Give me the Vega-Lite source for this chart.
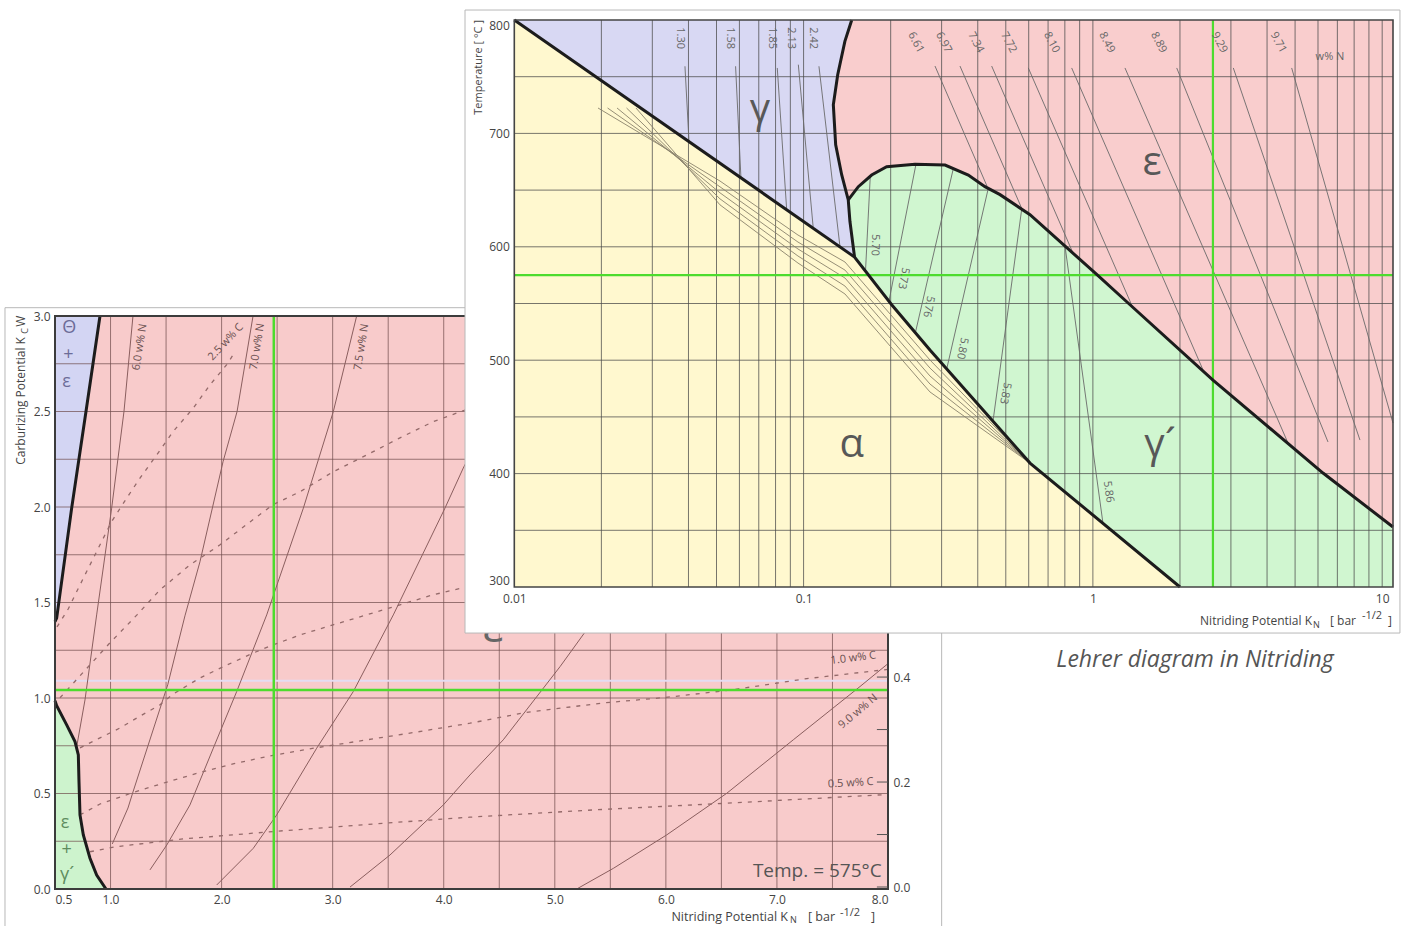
{
"$schema":"https://vega.github.io/schema/vega-lite/v6.json",
"width":1405,"height":926,"padding":0,"autosize":{"type":"none"},
"background":"white",
"config":{"view":{"stroke":null},"text":{"font":"Open Sans"},"axis":{"labelFont":"Open Sans"}},
"resolve":{"scale":{"x":"independent","y":"independent","fill":"independent"}},
"datasets":{
"bpoly":[
{"r":"t","i":0,"x":0.5,"y":3},{"r":"t","i":1,"x":0.905,"y":3},{"r":"t","i":2,"x":0.779,"y":2.5},{"r":"t","i":3,"x":0.65,"y":1.994},{"r":"t","i":4,"x":0.515,"y":1.418},{"r":"t","i":5,"x":0.5,"y":1.4},
{"r":"g","i":0,"x":0.5,"y":0.985},{"r":"g","i":1,"x":0.515,"y":0.96},{"r":"g","i":2,"x":0.605,"y":0.859},{"r":"g","i":3,"x":0.68,"y":0.772},{"r":"g","i":4,"x":0.71,"y":0.702},{"r":"g","i":5,"x":0.716,"y":0.562},{"r":"g","i":6,"x":0.725,"y":0.388},{"r":"g","i":7,"x":0.755,"y":0.283},{"r":"g","i":8,"x":0.815,"y":0.161},{"r":"g","i":9,"x":0.875,"y":0.073},{"r":"g","i":10,"x":0.959,"y":0},{"r":"g","i":11,"x":0.5,"y":0}
],
"bbound":[
{"id":"t","i":0,"x":0.905,"y":3},{"id":"t","i":1,"x":0.779,"y":2.5},{"id":"t","i":2,"x":0.65,"y":1.994},{"id":"t","i":3,"x":0.515,"y":1.418},{"id":"t","i":4,"x":0.5,"y":1.4},
{"id":"g","i":0,"x":0.5,"y":0.985},{"id":"g","i":1,"x":0.515,"y":0.96},{"id":"g","i":2,"x":0.605,"y":0.859},{"id":"g","i":3,"x":0.68,"y":0.772},{"id":"g","i":4,"x":0.71,"y":0.702},{"id":"g","i":5,"x":0.716,"y":0.562},{"id":"g","i":6,"x":0.725,"y":0.388},{"id":"g","i":7,"x":0.755,"y":0.283},{"id":"g","i":8,"x":0.815,"y":0.161},{"id":"g","i":9,"x":0.875,"y":0.073},{"id":"g","i":10,"x":0.959,"y":0}
],
"bisoN":[
{"id":"a","i":0,"x":0.695,"y":0.744},{"id":"a","i":1,"x":0.77,"y":0.99},{"id":"a","i":2,"x":0.875,"y":1.435},{"id":"a","i":3,"x":1.01,"y":1.994},{"id":"a","i":4,"x":1.121,"y":2.5},{"id":"a","i":5,"x":1.202,"y":3},
{"id":"b","i":0,"x":1.016,"y":0.236},{"id":"b","i":1,"x":1.157,"y":0.424},{"id":"b","i":2,"x":1.202,"y":0.508},{"id":"b","i":3,"x":1.515,"y":1.069},{"id":"b","i":4,"x":1.67,"y":1.43},{"id":"b","i":5,"x":1.805,"y":1.713},{"id":"b","i":6,"x":2.013,"y":2.237},{"id":"b","i":7,"x":2.139,"y":2.499},{"id":"b","i":8,"x":2.283,"y":3},
{"id":"c","i":0,"x":1.355,"y":0.1},{"id":"c","i":1,"x":1.506,"y":0.23},{"id":"c","i":2,"x":1.715,"y":0.44},{"id":"c","i":3,"x":1.925,"y":0.737},{"id":"c","i":4,"x":2.136,"y":1.034},{"id":"c","i":5,"x":2.406,"y":1.435},{"id":"c","i":6,"x":2.736,"y":1.994},{"id":"c","i":7,"x":3.006,"y":2.5},{"id":"c","i":8,"x":3.216,"y":3},
{"id":"d","i":0,"x":1.956,"y":0.021},{"id":"d","i":1,"x":2.285,"y":0.213},{"id":"d","i":2,"x":2.496,"y":0.388},{"id":"d","i":3,"x":2.856,"y":0.737},{"id":"d","i":4,"x":3.186,"y":1.034},{"id":"d","i":5,"x":3.546,"y":1.435},{"id":"d","i":6,"x":4.011,"y":1.994},{"id":"d","i":7,"x":4.176,"y":2.204},{"id":"d","i":8,"x":4.326,"y":2.378},
{"id":"e","i":0,"x":3.156,"y":0.01},{"id":"e","i":1,"x":3.516,"y":0.178},{"id":"e","i":2,"x":3.996,"y":0.44},{"id":"e","i":3,"x":4.236,"y":0.597},{"id":"e","i":4,"x":4.536,"y":0.781},{"id":"e","i":5,"x":5.047,"y":1.164},{"id":"e","i":6,"x":5.287,"y":1.357},{"id":"e","i":7,"x":5.407,"y":1.461},
{"id":"f","i":0,"x":5.197,"y":0},{"id":"f","i":1,"x":5.527,"y":0.108},{"id":"f","i":2,"x":6.007,"y":0.283},{"id":"f","i":3,"x":6.548,"y":0.501},{"id":"f","i":4,"x":7.147,"y":0.781},{"id":"f","i":5,"x":7.748,"y":1.06},{"id":"f","i":6,"x":8,"y":1.18}
],
"bisoC":[
{"id":"c05","i":0,"x":0.815,"y":0.195},{"id":"c05","i":1,"x":1.056,"y":0.222},{"id":"c05","i":2,"x":1.652,"y":0.262},{"id":"c05","i":3,"x":2.553,"y":0.305},{"id":"c05","i":4,"x":3.453,"y":0.344},{"id":"c05","i":5,"x":4.236,"y":0.376},{"id":"c05","i":6,"x":5.347,"y":0.414},{"id":"c05","i":7,"x":6.548,"y":0.449},{"id":"c05","i":8,"x":8,"y":0.495},
{"id":"c10","i":0,"x":0.725,"y":0.388},{"id":"c10","i":1,"x":0.905,"y":0.445},{"id":"c10","i":2,"x":1.202,"y":0.505},{"id":"c10","i":3,"x":1.508,"y":0.56},{"id":"c10","i":4,"x":1.805,"y":0.61},{"id":"c10","i":5,"x":2.103,"y":0.655},{"id":"c10","i":6,"x":2.463,"y":0.7},{"id":"c10","i":7,"x":2.859,"y":0.74},{"id":"c10","i":8,"x":3.309,"y":0.781},{"id":"c10","i":9,"x":3.759,"y":0.822},{"id":"c10","i":10,"x":4.236,"y":0.868},{"id":"c10","i":11,"x":4.747,"y":0.925},{"id":"c10","i":12,"x":5.45,"y":0.975},{"id":"c10","i":13,"x":6.0,"y":1.003},{"id":"c10","i":14,"x":6.6,"y":1.043},{"id":"c10","i":15,"x":7.25,"y":1.1},{"id":"c10","i":16,"x":8,"y":1.15},
{"id":"c15","i":0,"x":0.725,"y":0.739},{"id":"c15","i":1,"x":0.905,"y":0.791},{"id":"c15","i":2,"x":1.085,"y":0.843},{"id":"c15","i":3,"x":1.265,"y":0.905},{"id":"c15","i":4,"x":1.445,"y":0.964},{"id":"c15","i":5,"x":1.562,"y":1.02},{"id":"c15","i":6,"x":1.805,"y":1.105},{"id":"c15","i":7,"x":2.049,"y":1.173},{"id":"c15","i":8,"x":2.283,"y":1.235},{"id":"c15","i":9,"x":2.463,"y":1.278},{"id":"c15","i":10,"x":2.706,"y":1.33},{"id":"c15","i":11,"x":3.003,"y":1.383},{"id":"c15","i":12,"x":3.246,"y":1.425},{"id":"c15","i":13,"x":3.606,"y":1.488},{"id":"c15","i":14,"x":3.903,"y":1.54},{"id":"c15","i":15,"x":4.173,"y":1.577},{"id":"c15","i":16,"x":4.326,"y":1.603},
{"id":"c20","i":0,"x":0.545,"y":1.001},{"id":"c20","i":1,"x":0.725,"y":1.116},{"id":"c20","i":2,"x":0.995,"y":1.289},{"id":"c20","i":3,"x":1.238,"y":1.435},{"id":"c20","i":4,"x":1.445,"y":1.566},{"id":"c20","i":5,"x":1.715,"y":1.697},{"id":"c20","i":6,"x":1.986,"y":1.802},{"id":"c20","i":7,"x":2.256,"y":1.922},{"id":"c20","i":8,"x":2.463,"y":2.012},{"id":"c20","i":9,"x":2.706,"y":2.08},{"id":"c20","i":10,"x":3.003,"y":2.184},{"id":"c20","i":11,"x":3.309,"y":2.273},{"id":"c20","i":12,"x":3.606,"y":2.362},{"id":"c20","i":13,"x":3.903,"y":2.446},{"id":"c20","i":14,"x":4.173,"y":2.504},{"id":"c20","i":15,"x":4.326,"y":2.535},
{"id":"c25","i":0,"x":0.518,"y":1.372},{"id":"c25","i":1,"x":0.62,"y":1.467},{"id":"c25","i":2,"x":0.725,"y":1.592},{"id":"c25","i":3,"x":0.875,"y":1.767},{"id":"c25","i":4,"x":1.01,"y":1.924},{"id":"c25","i":5,"x":1.146,"y":2.047},{"id":"c25","i":6,"x":1.265,"y":2.151},{"id":"c25","i":7,"x":1.416,"y":2.273},{"id":"c25","i":8,"x":1.565,"y":2.396},{"id":"c25","i":9,"x":1.745,"y":2.518},{"id":"c25","i":10,"x":1.896,"y":2.64},{"id":"c25","i":11,"x":2.046,"y":2.745},{"id":"c25","i":12,"x":2.105,"y":2.798}
],
"bgx":[{"v":1},{"v":1.5},{"v":2},{"v":2.5},{"v":3},{"v":3.5},{"v":4},{"v":4.5},{"v":5},{"v":5.5},{"v":6},{"v":6.5},{"v":7},{"v":7.5}],
"bgy":[{"v":0.25},{"v":0.5},{"v":0.75},{"v":1},{"v":1.25},{"v":1.5},{"v":1.75},{"v":2},{"v":2.25},{"v":2.5},{"v":2.75}],
"brt":[{"v":0},{"v":0.1},{"v":0.2},{"v":0.3},{"v":0.4}],
"blN":[{"t":"6.0 w% N","x":1.265,"y":2.837},{"t":"7.0 w% N","x":2.323,"y":2.84},{"t":"7.5 w% N","x":3.261,"y":2.837}],
"blC25":[{"t":"2.5 w% C","x":2.038,"y":2.863}],
"blC10":[{"t":"1.0 w% C","x":7.688,"y":1.208}],
"blC05":[{"t":"0.5 w% C","x":7.665,"y":0.554}],
"blN9":[{"t":"9.0 w% N","x":7.732,"y":0.929}],
"bphT":[{"t":"Θ","x":0.629,"y":2.937},{"t":"+","x":0.62,"y":2.797},{"t":"ε","x":0.605,"y":2.652}],
"bphG":[{"t":"ε","x":0.59,"y":0.344},{"t":"+","x":0.605,"y":0.204},{"t":"γ´","x":0.61,"y":0.073}],
"fpoly":[
{"r":"a","i":0,"x":0.01,"y":800},{"r":"a","i":1,"x":0.15,"y":591},{"r":"a","i":2,"x":0.2016,"y":548.9},{"r":"a","i":3,"x":0.2734,"y":509},{"r":"a","i":4,"x":0.6063,"y":409.3},{"r":"a","i":5,"x":2.0,"y":300},{"r":"a","i":6,"x":0.01,"y":300},
{"r":"g","i":0,"x":0.01,"y":800},{"r":"g","i":1,"x":0.1467,"y":800},{"r":"g","i":2,"x":0.1389,"y":781.2},{"r":"g","i":3,"x":0.1312,"y":751.8},{"r":"g","i":4,"x":0.1267,"y":725.3},{"r":"g","i":5,"x":0.1291,"y":690},{"r":"g","i":6,"x":0.1354,"y":663.6},{"r":"g","i":7,"x":0.1427,"y":641.3},{"r":"g","i":8,"x":0.1446,"y":622.5},{"r":"g","i":9,"x":0.15,"y":591},
{"r":"p","i":0,"x":0.15,"y":591},{"r":"p","i":1,"x":0.1446,"y":622.5},{"r":"p","i":2,"x":0.1427,"y":641.3},{"r":"p","i":3,"x":0.1546,"y":653},{"r":"p","i":4,"x":0.1719,"y":663.3},{"r":"p","i":5,"x":0.1937,"y":670.6},{"r":"p","i":6,"x":0.2427,"y":672.8},{"r":"p","i":7,"x":0.3083,"y":672.1},{"r":"p","i":8,"x":0.371,"y":663.3},{"r":"p","i":9,"x":0.4236,"y":653},{"r":"p","i":10,"x":0.4776,"y":646},{"r":"p","i":11,"x":0.6063,"y":628.3},{"r":"p","i":12,"x":1.033,"y":575.4},{"r":"p","i":13,"x":1.344,"y":548.9},{"r":"p","i":14,"x":2.601,"y":482.5},{"r":"p","i":15,"x":6.244,"y":400.5},{"r":"p","i":16,"x":10.9,"y":352.9},{"r":"p","i":17,"x":10.9,"y":300},{"r":"p","i":18,"x":2.0,"y":300},{"r":"p","i":19,"x":0.6063,"y":409.3},{"r":"p","i":20,"x":0.2734,"y":509},{"r":"p","i":21,"x":0.2016,"y":548.9}
],
"fbound":[
{"id":"b1","i":0,"x":0.01,"y":800},{"id":"b1","i":1,"x":0.15,"y":591},{"id":"b1","i":2,"x":0.2016,"y":548.9},{"id":"b1","i":3,"x":0.2734,"y":509},{"id":"b1","i":4,"x":0.6063,"y":409.3},{"id":"b1","i":5,"x":2.0,"y":300},
{"id":"b2","i":0,"x":0.1467,"y":800},{"id":"b2","i":1,"x":0.1389,"y":781.2},{"id":"b2","i":2,"x":0.1312,"y":751.8},{"id":"b2","i":3,"x":0.1267,"y":725.3},{"id":"b2","i":4,"x":0.1291,"y":690},{"id":"b2","i":5,"x":0.1354,"y":663.6},{"id":"b2","i":6,"x":0.1427,"y":641.3},{"id":"b2","i":7,"x":0.1446,"y":622.5},{"id":"b2","i":8,"x":0.15,"y":591},
{"id":"b3","i":0,"x":0.1427,"y":641.3},{"id":"b3","i":1,"x":0.1546,"y":653},{"id":"b3","i":2,"x":0.1719,"y":663.3},{"id":"b3","i":3,"x":0.1937,"y":670.6},{"id":"b3","i":4,"x":0.2427,"y":672.8},{"id":"b3","i":5,"x":0.3083,"y":672.1},{"id":"b3","i":6,"x":0.371,"y":663.3},{"id":"b3","i":7,"x":0.4236,"y":653},{"id":"b3","i":8,"x":0.4776,"y":646},{"id":"b3","i":9,"x":0.6063,"y":628.3},{"id":"b3","i":10,"x":1.033,"y":575.4},{"id":"b3","i":11,"x":1.344,"y":548.9},{"id":"b3","i":12,"x":2.601,"y":482.5},{"id":"b3","i":13,"x":6.244,"y":400.5},{"id":"b3","i":14,"x":10.9,"y":352.9}
],
"fiso":[
{"id":"g1","i":0,"x":0.0389,"y":759.2},{"id":"g1","i":1,"x":0.04017,"y":693},
{"id":"g2","i":0,"x":0.0582,"y":759.2},{"id":"g2","i":1,"x":0.06074,"y":660.7},
{"id":"g3","i":0,"x":0.0811,"y":757.7},{"id":"g3","i":1,"x":0.08741,"y":632.7},
{"id":"g4","i":0,"x":0.0959,"y":760.6},{"id":"g4","i":1,"x":0.108,"y":616.3},
{"id":"g5","i":0,"x":0.113,"y":759.2},{"id":"g5","i":1,"x":0.1336,"y":600},
{"id":"p1","i":0,"x":0.17,"y":662},{"id":"p1","i":1,"x":0.1637,"y":578.7},
{"id":"p2","i":0,"x":0.2446,"y":672.7},{"id":"p2","i":1,"x":0.1973,"y":552.2},
{"id":"p3","i":0,"x":0.3293,"y":669},{"id":"p3","i":1,"x":0.2436,"y":524.5},
{"id":"p4","i":0,"x":0.4349,"y":651.5},{"id":"p4","i":1,"x":0.3124,"y":492.3},
{"id":"p5","i":0,"x":0.5675,"y":633.2},{"id":"p5","i":1,"x":0.4516,"y":446.2},
{"id":"p6","i":0,"x":0.8011,"y":600.6},{"id":"p6","i":1,"x":1.0837,"y":356.1},
{"id":"e1","i":0,"x":0.2846,"y":759.4},{"id":"e1","i":1,"x":0.4304,"y":653.6},
{"id":"e2","i":0,"x":0.3472,"y":759.4},{"id":"e2","i":1,"x":0.5689,"y":633.3},
{"id":"e3","i":0,"x":0.4468,"y":759.4},{"id":"e3","i":1,"x":0.8535,"y":594.5},
{"id":"e4","i":0,"x":0.5981,"y":757.7},{"id":"e4","i":1,"x":1.376,"y":546},
{"id":"e5","i":0,"x":0.8447,"y":757.7},{"id":"e5","i":1,"x":2.403,"y":491.4},
{"id":"e6","i":0,"x":1.291,"y":757.7},{"id":"e6","i":1,"x":4.725,"y":427},
{"id":"e7","i":0,"x":1.949,"y":757.7},{"id":"e7","i":1,"x":6.497,"y":427.9},
{"id":"e8","i":0,"x":3.058,"y":757.7},{"id":"e8","i":1,"x":8.38,"y":429.6},
{"id":"e9","i":0,"x":4.866,"y":757.7},{"id":"e9","i":1,"x":10.9,"y":444.6}
],
"falpha":[
{"id":"a0","i":0,"x":0.01947,"y":722.4},{"id":"a0","i":1,"x":0.0514,"y":658},{"id":"a0","i":2,"x":0.0956,"y":610.4},{"id":"a0","i":3,"x":0.139,"y":586.6},{"id":"a0","i":4,"x":0.2734,"y":500.2},{"id":"a0","i":5,"x":0.6063,"y":409.3},
{"id":"a1","i":0,"x":0.02101,"y":722.4},{"id":"a1","i":1,"x":0.0514,"y":652.9},{"id":"a1","i":2,"x":0.0956,"y":604.2},{"id":"a1","i":3,"x":0.139,"y":579.5},{"id":"a1","i":4,"x":0.2734,"y":493.1},{"id":"a1","i":5,"x":0.6063,"y":409.3},
{"id":"a2","i":0,"x":0.02265,"y":722.4},{"id":"a2","i":1,"x":0.0514,"y":647.6},{"id":"a2","i":2,"x":0.0956,"y":598.1},{"id":"a2","i":3,"x":0.139,"y":572.5},{"id":"a2","i":4,"x":0.2734,"y":486.1},{"id":"a2","i":5,"x":0.6063,"y":409.3},
{"id":"a3","i":0,"x":0.02443,"y":722.4},{"id":"a3","i":1,"x":0.0514,"y":642.3},{"id":"a3","i":2,"x":0.0956,"y":591.9},{"id":"a3","i":3,"x":0.139,"y":565.4},{"id":"a3","i":4,"x":0.2734,"y":479},{"id":"a3","i":5,"x":0.6063,"y":409.3},
{"id":"a4","i":0,"x":0.02634,"y":722.4},{"id":"a4","i":1,"x":0.0514,"y":637},{"id":"a4","i":2,"x":0.0956,"y":585.7},{"id":"a4","i":3,"x":0.139,"y":558.4},{"id":"a4","i":4,"x":0.2734,"y":472},{"id":"a4","i":5,"x":0.6063,"y":409.3}
],
"fgx":[{"v":0.02},{"v":0.03},{"v":0.04},{"v":0.05},{"v":0.06},{"v":0.07},{"v":0.08},{"v":0.09},{"v":0.1},{"v":0.2},{"v":0.3},{"v":0.4},{"v":0.5},{"v":0.6},{"v":0.7},{"v":0.8},{"v":0.9},{"v":1},{"v":2},{"v":3},{"v":4},{"v":5},{"v":6},{"v":7},{"v":8},{"v":9},{"v":10}],
"fgy":[{"v":350},{"v":400},{"v":450},{"v":500},{"v":550},{"v":600},{"v":650},{"v":700},{"v":750}],
"flg":[{"t":"1.30","x":0.0374,"y":784},{"t":"1.58","x":0.0557,"y":784},{"t":"1.85","x":0.0776,"y":784},{"t":"2.13","x":0.0905,"y":784},{"t":"2.42","x":0.108,"y":784}],
"flp1":[{"t":"5.70","x":0.1765,"y":601.6}],
"flp2":[{"t":"5.73","x":0.2212,"y":572.2},{"t":"5.76","x":0.2698,"y":547.2},{"t":"5.80","x":0.3529,"y":510.5},{"t":"5.83","x":0.497,"y":470.8}],
"flp3":[{"t":"5.86","x":1.13,"y":384}],
"fle":[{"t":"6.61","x":0.244,"y":780.1},{"t":"6.97","x":0.3047,"y":780.1},{"t":"7.34","x":0.3935,"y":780.1},{"t":"7.72","x":0.5113,"y":780.1},{"t":"8.10","x":0.7188,"y":780.1},{"t":"8.49","x":1.117,"y":780.1},{"t":"8.89","x":1.687,"y":780.1},{"t":"9.29","x":2.734,"y":780.1},{"t":"9.71","x":4.37,"y":780.1}],
"fgreek":[{"t":"γ","x":0.0707,"y":720.6},{"t":"ε","x":1.6,"y":673.9},{"t":"α","x":0.1467,"y":425.2},{"t":"γ´","x":1.706,"y":425.2}]
},
"layer":[
{"data":{"values":[{}]},"mark":{"type":"rect","fill":"white","stroke":"#b8b8b8","strokeWidth":1},
 "encoding":{"x":{"datum":0.0498,"type":"quantitative","scale":{"domain":[0.5,8],"range":[55,888],"nice":false,"zero":false},"axis":null},"x2":{"datum":8.483},
 "y":{"datum":3.0435,"type":"quantitative","scale":{"domain":[0,3],"range":[889,316],"nice":false,"zero":false},"axis":null},"y2":{"datum":-0.3}}},
{"data":{"values":[{}]},"mark":{"type":"rect","fill":"#F8CBCB"},
 "encoding":{"x":{"datum":0.5,"type":"quantitative","scale":{"domain":[0.5,8],"range":[55,888],"nice":false,"zero":false},
   "axis":{"orient":"bottom","offset":-37,"zindex":1,"values":[0.5,1,2,3,4,5,6,7,8],"format":".1f","grid":false,"ticks":false,"domain":false,"labelFontSize":12,"labelColor":"#444","labelPadding":5,"labelFlush":true,"title":null}},"x2":{"datum":8},
 "y":{"datum":0,"type":"quantitative","scale":{"domain":[0,3],"range":[889,316],"nice":false,"zero":false},
   "axis":{"orient":"left","offset":-55,"zindex":1,"values":[0,0.5,1,1.5,2,2.5,3],"format":".1f","grid":false,"ticks":false,"domain":false,"labelFontSize":12,"labelColor":"#444","labelPadding":5,"title":null}},"y2":{"datum":3}}},
{"data":{"name":"bpoly"},"mark":{"type":"line","strokeWidth":0},
 "encoding":{"x":{"field":"x","type":"quantitative","scale":{"domain":[0.5,8],"range":[55,888],"nice":false,"zero":false},"axis":null},
 "y":{"field":"y","type":"quantitative","scale":{"domain":[0,3],"range":[889,316],"nice":false,"zero":false},"axis":null},
 "fill":{"field":"r","type":"nominal","scale":{"domain":["t","g"],"range":["#D3D5F3","#CDF3CD"]},"legend":null},"detail":{"field":"r"},"order":{"field":"i","type":"quantitative"}}},
{"data":{"name":"bgx"},"mark":{"type":"rule","stroke":"#6e4a4a","strokeWidth":1,"opacity":0.7},
 "encoding":{"x":{"field":"v","type":"quantitative","scale":{"domain":[0.5,8],"range":[55,888],"nice":false,"zero":false},"axis":null},
 "y":{"datum":0,"type":"quantitative","scale":{"domain":[0,3],"range":[889,316],"nice":false,"zero":false},"axis":null},"y2":{"datum":3}}},
{"data":{"name":"bgy"},"mark":{"type":"rule","stroke":"#6e4a4a","strokeWidth":1,"opacity":0.7},
 "encoding":{"x":{"datum":0.5,"type":"quantitative","scale":{"domain":[0.5,8],"range":[55,888],"nice":false,"zero":false},"axis":null},"x2":{"datum":8},
 "y":{"field":"v","type":"quantitative","scale":{"domain":[0,3],"range":[889,316],"nice":false,"zero":false},"axis":null}}},
{"data":{"values":[{}]},"mark":{"type":"rule","stroke":"#E4DCF2","strokeWidth":2},
 "encoding":{"x":{"datum":0.5,"type":"quantitative","scale":{"domain":[0.5,8],"range":[55,888],"nice":false,"zero":false},"axis":null},"x2":{"datum":8},
 "y":{"datum":1.09,"type":"quantitative","scale":{"domain":[0,3],"range":[889,316],"nice":false,"zero":false},"axis":null}}},
{"data":{"name":"bisoN"},"mark":{"type":"line","stroke":"#8a5e5e","strokeWidth":1},
 "encoding":{"x":{"field":"x","type":"quantitative","scale":{"domain":[0.5,8],"range":[55,888],"nice":false,"zero":false},"axis":null},
 "y":{"field":"y","type":"quantitative","scale":{"domain":[0,3],"range":[889,316],"nice":false,"zero":false},"axis":null},"detail":{"field":"id"},"order":{"field":"i","type":"quantitative"}}},
{"data":{"name":"bisoC"},"mark":{"type":"line","stroke":"#946a6a","strokeWidth":1.3,"strokeDash":[4,6]},
 "encoding":{"x":{"field":"x","type":"quantitative","scale":{"domain":[0.5,8],"range":[55,888],"nice":false,"zero":false},"axis":null},
 "y":{"field":"y","type":"quantitative","scale":{"domain":[0,3],"range":[889,316],"nice":false,"zero":false},"axis":null},"detail":{"field":"id"},"order":{"field":"i","type":"quantitative"}}},
{"data":{"values":[{}]},"mark":{"type":"rule","stroke":"#4ddc2e","strokeWidth":2.5},
 "encoding":{"x":{"datum":2.47,"type":"quantitative","scale":{"domain":[0.5,8],"range":[55,888],"nice":false,"zero":false},"axis":null},
 "y":{"datum":0,"type":"quantitative","scale":{"domain":[0,3],"range":[889,316],"nice":false,"zero":false},"axis":null},"y2":{"datum":3}}},
{"data":{"values":[{}]},"mark":{"type":"rule","stroke":"#4ddc2e","strokeWidth":2.5},
 "encoding":{"x":{"datum":0.5,"type":"quantitative","scale":{"domain":[0.5,8],"range":[55,888],"nice":false,"zero":false},"axis":null},"x2":{"datum":8},
 "y":{"datum":1.042,"type":"quantitative","scale":{"domain":[0,3],"range":[889,316],"nice":false,"zero":false},"axis":null}}},
{"data":{"name":"bbound"},"mark":{"type":"line","stroke":"#1c1c1c","strokeWidth":3},
 "encoding":{"x":{"field":"x","type":"quantitative","scale":{"domain":[0.5,8],"range":[55,888],"nice":false,"zero":false},"axis":null},
 "y":{"field":"y","type":"quantitative","scale":{"domain":[0,3],"range":[889,316],"nice":false,"zero":false},"axis":null},"detail":{"field":"id"},"order":{"field":"i","type":"quantitative"}}},
{"data":{"values":[{}]},"mark":{"type":"rect","filled":false,"stroke":"#3c3c3c","strokeWidth":2},
 "encoding":{"x":{"datum":0.5,"type":"quantitative","scale":{"domain":[0.5,8],"range":[55,888],"nice":false,"zero":false},"axis":null},"x2":{"datum":8},
 "y":{"datum":0,"type":"quantitative","scale":{"domain":[0,3],"range":[889,316],"nice":false,"zero":false},"axis":null},"y2":{"datum":3}}},
{"data":{"name":"brt"},"mark":{"type":"rule","stroke":"#555","strokeWidth":1},
 "encoding":{"x":{"datum":7.9,"type":"quantitative","scale":{"domain":[0.5,8],"range":[55,888],"nice":false,"zero":false},"axis":null},"x2":{"datum":8},
 "y":{"field":"v","type":"quantitative","scale":{"domain":[0,1.088],"range":[887,316],"nice":false,"zero":false},
   "axis":{"orient":"right","offset":-517,"zindex":1,"values":[0,0.2,0.4],"format":".1f","grid":false,"ticks":false,"domain":false,"labelFontSize":12,"labelColor":"#444","labelPadding":5,"title":null}}}},
{"data":{"name":"blN"},"mark":{"type":"text","fontSize":11,"color":"#6a5050","angle":-81,"align":"center","baseline":"middle"},
 "encoding":{"x":{"field":"x","type":"quantitative","scale":{"domain":[0.5,8],"range":[55,888],"nice":false,"zero":false},"axis":null},
 "y":{"field":"y","type":"quantitative","scale":{"domain":[0,3],"range":[889,316],"nice":false,"zero":false},"axis":null},"text":{"field":"t"}}},
{"data":{"name":"blC25"},"mark":{"type":"text","fontSize":11,"color":"#6a5050","angle":-47,"align":"center","baseline":"middle"},
 "encoding":{"x":{"field":"x","type":"quantitative","scale":{"domain":[0.5,8],"range":[55,888],"nice":false,"zero":false},"axis":null},
 "y":{"field":"y","type":"quantitative","scale":{"domain":[0,3],"range":[889,316],"nice":false,"zero":false},"axis":null},"text":{"field":"t"}}},
{"data":{"name":"blC10"},"mark":{"type":"text","fontSize":11,"color":"#6a5050","angle":-7,"align":"center","baseline":"middle"},
 "encoding":{"x":{"field":"x","type":"quantitative","scale":{"domain":[0.5,8],"range":[55,888],"nice":false,"zero":false},"axis":null},
 "y":{"field":"y","type":"quantitative","scale":{"domain":[0,3],"range":[889,316],"nice":false,"zero":false},"axis":null},"text":{"field":"t"}}},
{"data":{"name":"blC05"},"mark":{"type":"text","fontSize":11,"color":"#6a5050","angle":-3,"align":"center","baseline":"middle"},
 "encoding":{"x":{"field":"x","type":"quantitative","scale":{"domain":[0.5,8],"range":[55,888],"nice":false,"zero":false},"axis":null},
 "y":{"field":"y","type":"quantitative","scale":{"domain":[0,3],"range":[889,316],"nice":false,"zero":false},"axis":null},"text":{"field":"t"}}},
{"data":{"name":"blN9"},"mark":{"type":"text","fontSize":11,"color":"#6a5050","angle":-40,"align":"center","baseline":"middle"},
 "encoding":{"x":{"field":"x","type":"quantitative","scale":{"domain":[0.5,8],"range":[55,888],"nice":false,"zero":false},"axis":null},
 "y":{"field":"y","type":"quantitative","scale":{"domain":[0,3],"range":[889,316],"nice":false,"zero":false},"axis":null},"text":{"field":"t"}}},
{"data":{"name":"bphT"},"mark":{"type":"text","fontSize":18,"color":"#6c6c98","align":"center","baseline":"middle"},
 "encoding":{"x":{"field":"x","type":"quantitative","scale":{"domain":[0.5,8],"range":[55,888],"nice":false,"zero":false},"axis":null},
 "y":{"field":"y","type":"quantitative","scale":{"domain":[0,3],"range":[889,316],"nice":false,"zero":false},"axis":null},"text":{"field":"t"}}},
{"data":{"name":"bphG"},"mark":{"type":"text","fontSize":18,"color":"#5e8c5e","align":"center","baseline":"middle"},
 "encoding":{"x":{"field":"x","type":"quantitative","scale":{"domain":[0.5,8],"range":[55,888],"nice":false,"zero":false},"axis":null},
 "y":{"field":"y","type":"quantitative","scale":{"domain":[0,3],"range":[889,316],"nice":false,"zero":false},"axis":null},"text":{"field":"t"}}},
{"data":{"values":[{"t":"ε","x":4.443,"y":1.294}]},"mark":{"type":"text","fontSize":44,"color":"#666","align":"center","baseline":"alphabetic"},
 "encoding":{"x":{"field":"x","type":"quantitative","scale":{"domain":[0.5,8],"range":[55,888],"nice":false,"zero":false},"axis":null},
 "y":{"field":"y","type":"quantitative","scale":{"domain":[0,3],"range":[889,316],"nice":false,"zero":false},"axis":null},"text":{"field":"t"}}},
{"data":{"values":[{"t":"Temp. = 575°C","x":7.943,"y":0.0644}]},"mark":{"type":"text","fontSize":19,"color":"#555","align":"right","baseline":"alphabetic"},
 "encoding":{"x":{"field":"x","type":"quantitative","scale":{"domain":[0.5,8],"range":[55,888],"nice":false,"zero":false},"axis":null},
 "y":{"field":"y","type":"quantitative","scale":{"domain":[0,3],"range":[889,316],"nice":false,"zero":false},"axis":null},"text":{"field":"t"}}},
{"data":{"values":[{"x":8,"y":-0.1676}]},"mark":{"type":"text","text":"Nitriding Potential K","fontSize":12.5,"color":"#444","align":"right","baseline":"alphabetic","dx":-100},
 "encoding":{"x":{"field":"x","type":"quantitative","scale":{"domain":[0.5,8],"range":[55,888],"nice":false,"zero":false},"axis":null},
 "y":{"field":"y","type":"quantitative","scale":{"domain":[0,3],"range":[889,316],"nice":false,"zero":false},"axis":null}}},
{"data":{"values":[{"x":8,"y":-0.1676}]},"mark":{"type":"text","text":"N","fontSize":9,"color":"#444","align":"left","baseline":"alphabetic","dx":-98,"dy":2},
 "encoding":{"x":{"field":"x","type":"quantitative","scale":{"domain":[0.5,8],"range":[55,888],"nice":false,"zero":false},"axis":null},
 "y":{"field":"y","type":"quantitative","scale":{"domain":[0,3],"range":[889,316],"nice":false,"zero":false},"axis":null}}},
{"data":{"values":[{"x":8,"y":-0.1676}]},"mark":{"type":"text","text":"[ bar","fontSize":12.5,"color":"#444","align":"left","baseline":"alphabetic","dx":-80},
 "encoding":{"x":{"field":"x","type":"quantitative","scale":{"domain":[0.5,8],"range":[55,888],"nice":false,"zero":false},"axis":null},
 "y":{"field":"y","type":"quantitative","scale":{"domain":[0,3],"range":[889,316],"nice":false,"zero":false},"axis":null}}},
{"data":{"values":[{"x":8,"y":-0.1676}]},"mark":{"type":"text","text":"-1/2","fontSize":11,"color":"#444","align":"left","baseline":"alphabetic","dx":-48,"dy":-5},
 "encoding":{"x":{"field":"x","type":"quantitative","scale":{"domain":[0.5,8],"range":[55,888],"nice":false,"zero":false},"axis":null},
 "y":{"field":"y","type":"quantitative","scale":{"domain":[0,3],"range":[889,316],"nice":false,"zero":false},"axis":null}}},
{"data":{"values":[{"x":8,"y":-0.1676}]},"mark":{"type":"text","text":"]","fontSize":12.5,"color":"#444","align":"left","baseline":"alphabetic","dx":-17},
 "encoding":{"x":{"field":"x","type":"quantitative","scale":{"domain":[0.5,8],"range":[55,888],"nice":false,"zero":false},"axis":null},
 "y":{"field":"y","type":"quantitative","scale":{"domain":[0,3],"range":[889,316],"nice":false,"zero":false},"axis":null}}},
{"data":{"values":[{"x":0.2254,"y":2.221}]},"mark":{"type":"text","text":"Carburizing Potential K","fontSize":12,"color":"#444","align":"left","baseline":"alphabetic","angle":270},
 "encoding":{"x":{"field":"x","type":"quantitative","scale":{"domain":[0.5,8],"range":[55,888],"nice":false,"zero":false},"axis":null},
 "y":{"field":"y","type":"quantitative","scale":{"domain":[0,3],"range":[889,316],"nice":false,"zero":false},"axis":null}}},
{"data":{"values":[{"x":0.2254,"y":2.221}]},"mark":{"type":"text","text":"C","fontSize":9,"color":"#444","align":"left","baseline":"alphabetic","angle":270,"dx":131,"dy":3},
 "encoding":{"x":{"field":"x","type":"quantitative","scale":{"domain":[0.5,8],"range":[55,888],"nice":false,"zero":false},"axis":null},
 "y":{"field":"y","type":"quantitative","scale":{"domain":[0,3],"range":[889,316],"nice":false,"zero":false},"axis":null}}},
{"data":{"values":[{"x":0.2254,"y":2.221}]},"mark":{"type":"text","text":"W","fontSize":12,"color":"#444","align":"left","baseline":"alphabetic","angle":270,"dx":138},
 "encoding":{"x":{"field":"x","type":"quantitative","scale":{"domain":[0.5,8],"range":[55,888],"nice":false,"zero":false},"axis":null},
 "y":{"field":"y","type":"quantitative","scale":{"domain":[0,3],"range":[889,316],"nice":false,"zero":false},"axis":null}}},

{"data":{"values":[{}]},"mark":{"type":"rect","fill":"white","stroke":"#b8b8b8","strokeWidth":1},
 "encoding":{"x":{"datum":0.006755,"type":"quantitative","scale":{"type":"log","domain":[0.01,10.9],"range":[514.3,1393],"nice":false},"axis":null},"x2":{"datum":11.52},
 "y":{"datum":808.8,"type":"quantitative","scale":{"domain":[300,800],"range":[587,20],"nice":false,"zero":false},"axis":null},"y2":{"datum":259.4}}},
{"data":{"values":[{}]},"mark":{"type":"rect","fill":"#F9CDCD"},
 "encoding":{"x":{"datum":0.01,"type":"quantitative","scale":{"type":"log","domain":[0.01,10.9],"range":[514.3,1393],"nice":false},
   "axis":{"orient":"bottom","offset":-339,"zindex":1,"values":[0.01,0.1,1,10],"format":"~g","grid":false,"ticks":false,"domain":false,"labelFontSize":12,"labelColor":"#444","labelPadding":6,"labelFlush":false,"title":null}},"x2":{"datum":10.9},
 "y":{"datum":300,"type":"quantitative","scale":{"domain":[300,800],"range":[587,20],"nice":false,"zero":false},
   "axis":{"orient":"left","offset":-514.3,"zindex":1,"values":[300,400,500,600,700,800],"grid":false,"ticks":false,"domain":false,"labelFontSize":12,"labelColor":"#444","labelPadding":5,"labelFlush":true,"title":null}},"y2":{"datum":800}}},
{"data":{"name":"fpoly"},"mark":{"type":"line","strokeWidth":0},
 "encoding":{"x":{"field":"x","type":"quantitative","scale":{"type":"log","domain":[0.01,10.9],"range":[514.3,1393],"nice":false},"axis":null},
 "y":{"field":"y","type":"quantitative","scale":{"domain":[300,800],"range":[587,20],"nice":false,"zero":false},"axis":null},
 "fill":{"field":"r","type":"nominal","scale":{"domain":["a","g","p"],"range":["#FFF8CF","#D8D8F3","#D0F6D0"]},"legend":null},"detail":{"field":"r"},"order":{"field":"i","type":"quantitative"}}},
{"data":{"name":"fgx"},"mark":{"type":"rule","stroke":"#4a4a4a","strokeWidth":1,"opacity":0.75},
 "encoding":{"x":{"field":"v","type":"quantitative","scale":{"type":"log","domain":[0.01,10.9],"range":[514.3,1393],"nice":false},"axis":null},
 "y":{"datum":300,"type":"quantitative","scale":{"domain":[300,800],"range":[587,20],"nice":false,"zero":false},"axis":null},"y2":{"datum":800}}},
{"data":{"name":"fgy"},"mark":{"type":"rule","stroke":"#4a4a4a","strokeWidth":1,"opacity":0.75},
 "encoding":{"x":{"datum":0.01,"type":"quantitative","scale":{"type":"log","domain":[0.01,10.9],"range":[514.3,1393],"nice":false},"axis":null},"x2":{"datum":10.9},
 "y":{"field":"v","type":"quantitative","scale":{"domain":[300,800],"range":[587,20],"nice":false,"zero":false},"axis":null}}},
{"data":{"name":"falpha"},"mark":{"type":"line","stroke":"#8a826c","strokeWidth":0.9},
 "encoding":{"x":{"field":"x","type":"quantitative","scale":{"type":"log","domain":[0.01,10.9],"range":[514.3,1393],"nice":false},"axis":null},
 "y":{"field":"y","type":"quantitative","scale":{"domain":[300,800],"range":[587,20],"nice":false,"zero":false},"axis":null},"detail":{"field":"id"},"order":{"field":"i","type":"quantitative"}}},
{"data":{"name":"fiso"},"mark":{"type":"line","stroke":"#6a6a6a","strokeWidth":0.9},
 "encoding":{"x":{"field":"x","type":"quantitative","scale":{"type":"log","domain":[0.01,10.9],"range":[514.3,1393],"nice":false},"axis":null},
 "y":{"field":"y","type":"quantitative","scale":{"domain":[300,800],"range":[587,20],"nice":false,"zero":false},"axis":null},"detail":{"field":"id"},"order":{"field":"i","type":"quantitative"}}},
{"data":{"values":[{}]},"mark":{"type":"rule","stroke":"#4ddc2e","strokeWidth":2.2},
 "encoding":{"x":{"datum":0.01,"type":"quantitative","scale":{"type":"log","domain":[0.01,10.9],"range":[514.3,1393],"nice":false},"axis":null},"x2":{"datum":10.9},
 "y":{"datum":575,"type":"quantitative","scale":{"domain":[300,800],"range":[587,20],"nice":false,"zero":false},"axis":null}}},
{"data":{"values":[{}]},"mark":{"type":"rule","stroke":"#4ddc2e","strokeWidth":2.2},
 "encoding":{"x":{"datum":2.6,"type":"quantitative","scale":{"type":"log","domain":[0.01,10.9],"range":[514.3,1393],"nice":false},"axis":null},
 "y":{"datum":300,"type":"quantitative","scale":{"domain":[300,800],"range":[587,20],"nice":false,"zero":false},"axis":null},"y2":{"datum":800}}},
{"data":{"name":"fbound"},"mark":{"type":"line","stroke":"#1c1c1c","strokeWidth":3},
 "encoding":{"x":{"field":"x","type":"quantitative","scale":{"type":"log","domain":[0.01,10.9],"range":[514.3,1393],"nice":false},"axis":null},
 "y":{"field":"y","type":"quantitative","scale":{"domain":[300,800],"range":[587,20],"nice":false,"zero":false},"axis":null},"detail":{"field":"id"},"order":{"field":"i","type":"quantitative"}}},
{"data":{"values":[{}]},"mark":{"type":"rect","filled":false,"stroke":"#444","strokeWidth":1.6},
 "encoding":{"x":{"datum":0.01,"type":"quantitative","scale":{"type":"log","domain":[0.01,10.9],"range":[514.3,1393],"nice":false},"axis":null},"x2":{"datum":10.9},
 "y":{"datum":300,"type":"quantitative","scale":{"domain":[300,800],"range":[587,20],"nice":false,"zero":false},"axis":null},"y2":{"datum":800}}},
{"data":{"name":"flg"},"mark":{"type":"text","fontSize":11,"color":"#666","angle":90,"align":"center","baseline":"middle"},
 "encoding":{"x":{"field":"x","type":"quantitative","scale":{"type":"log","domain":[0.01,10.9],"range":[514.3,1393],"nice":false},"axis":null},
 "y":{"field":"y","type":"quantitative","scale":{"domain":[300,800],"range":[587,20],"nice":false,"zero":false},"axis":null},"text":{"field":"t"}}},
{"data":{"name":"flp1"},"mark":{"type":"text","fontSize":11,"color":"#666","angle":92,"align":"center","baseline":"middle"},
 "encoding":{"x":{"field":"x","type":"quantitative","scale":{"type":"log","domain":[0.01,10.9],"range":[514.3,1393],"nice":false},"axis":null},
 "y":{"field":"y","type":"quantitative","scale":{"domain":[300,800],"range":[587,20],"nice":false,"zero":false},"axis":null},"text":{"field":"t"}}},
{"data":{"name":"flp2"},"mark":{"type":"text","fontSize":11,"color":"#666","angle":101,"align":"center","baseline":"middle"},
 "encoding":{"x":{"field":"x","type":"quantitative","scale":{"type":"log","domain":[0.01,10.9],"range":[514.3,1393],"nice":false},"axis":null},
 "y":{"field":"y","type":"quantitative","scale":{"domain":[300,800],"range":[587,20],"nice":false,"zero":false},"axis":null},"text":{"field":"t"}}},
{"data":{"name":"flp3"},"mark":{"type":"text","fontSize":11,"color":"#666","angle":82,"align":"center","baseline":"middle"},
 "encoding":{"x":{"field":"x","type":"quantitative","scale":{"type":"log","domain":[0.01,10.9],"range":[514.3,1393],"nice":false},"axis":null},
 "y":{"field":"y","type":"quantitative","scale":{"domain":[300,800],"range":[587,20],"nice":false,"zero":false},"axis":null},"text":{"field":"t"}}},
{"data":{"name":"fle"},"mark":{"type":"text","fontSize":11,"color":"#666","angle":62,"align":"center","baseline":"middle"},
 "encoding":{"x":{"field":"x","type":"quantitative","scale":{"type":"log","domain":[0.01,10.9],"range":[514.3,1393],"nice":false},"axis":null},
 "y":{"field":"y","type":"quantitative","scale":{"domain":[300,800],"range":[587,20],"nice":false,"zero":false},"axis":null},"text":{"field":"t"}}},
{"data":{"values":[{"t":"w% N","x":6.601,"y":767.5}]},"mark":{"type":"text","fontSize":11,"color":"#666","align":"center","baseline":"middle"},
 "encoding":{"x":{"field":"x","type":"quantitative","scale":{"type":"log","domain":[0.01,10.9],"range":[514.3,1393],"nice":false},"axis":null},
 "y":{"field":"y","type":"quantitative","scale":{"domain":[300,800],"range":[587,20],"nice":false,"zero":false},"axis":null},"text":{"field":"t"}}},
{"data":{"name":"fgreek"},"mark":{"type":"text","fontSize":40,"color":"#585858","align":"center","baseline":"middle"},
 "encoding":{"x":{"field":"x","type":"quantitative","scale":{"type":"log","domain":[0.01,10.9],"range":[514.3,1393],"nice":false},"axis":null},
 "y":{"field":"y","type":"quantitative","scale":{"domain":[300,800],"range":[587,20],"nice":false,"zero":false},"axis":null},"text":{"field":"t"}}},
{"data":{"values":[{"x":0.00773,"y":800}]},"mark":{"type":"text","text":"Temperature  [ °C ]","fontSize":11,"color":"#444","align":"right","baseline":"alphabetic","angle":270},
 "encoding":{"x":{"field":"x","type":"quantitative","scale":{"type":"log","domain":[0.01,10.9],"range":[514.3,1393],"nice":false},"axis":null},
 "y":{"field":"y","type":"quantitative","scale":{"domain":[300,800],"range":[587,20],"nice":false,"zero":false},"axis":null}}},
{"data":{"values":[{"x":10.9,"y":266.5}]},"mark":{"type":"text","text":"Nitriding Potential K","fontSize":12,"color":"#444","align":"right","baseline":"alphabetic","dx":-81},
 "encoding":{"x":{"field":"x","type":"quantitative","scale":{"type":"log","domain":[0.01,10.9],"range":[514.3,1393],"nice":false},"axis":null},
 "y":{"field":"y","type":"quantitative","scale":{"domain":[300,800],"range":[587,20],"nice":false,"zero":false},"axis":null}}},
{"data":{"values":[{"x":10.9,"y":266.5}]},"mark":{"type":"text","text":"N","fontSize":9,"color":"#444","align":"left","baseline":"alphabetic","dx":-80,"dy":3},
 "encoding":{"x":{"field":"x","type":"quantitative","scale":{"type":"log","domain":[0.01,10.9],"range":[514.3,1393],"nice":false},"axis":null},
 "y":{"field":"y","type":"quantitative","scale":{"domain":[300,800],"range":[587,20],"nice":false,"zero":false},"axis":null}}},
{"data":{"values":[{"x":10.9,"y":266.5}]},"mark":{"type":"text","text":"[ bar","fontSize":12,"color":"#444","align":"left","baseline":"alphabetic","dx":-63},
 "encoding":{"x":{"field":"x","type":"quantitative","scale":{"type":"log","domain":[0.01,10.9],"range":[514.3,1393],"nice":false},"axis":null},
 "y":{"field":"y","type":"quantitative","scale":{"domain":[300,800],"range":[587,20],"nice":false,"zero":false},"axis":null}}},
{"data":{"values":[{"x":10.9,"y":266.5}]},"mark":{"type":"text","text":"-1/2","fontSize":11,"color":"#444","align":"left","baseline":"alphabetic","dx":-31,"dy":-6},
 "encoding":{"x":{"field":"x","type":"quantitative","scale":{"type":"log","domain":[0.01,10.9],"range":[514.3,1393],"nice":false},"axis":null},
 "y":{"field":"y","type":"quantitative","scale":{"domain":[300,800],"range":[587,20],"nice":false,"zero":false},"axis":null}}},
{"data":{"values":[{"x":10.9,"y":266.5}]},"mark":{"type":"text","text":"]","fontSize":12,"color":"#444","align":"left","baseline":"alphabetic","dx":-5},
 "encoding":{"x":{"field":"x","type":"quantitative","scale":{"type":"log","domain":[0.01,10.9],"range":[514.3,1393],"nice":false},"axis":null},
 "y":{"field":"y","type":"quantitative","scale":{"domain":[300,800],"range":[587,20],"nice":false,"zero":false},"axis":null}}},
{"data":{"values":[{"t":"Lehrer diagram in Nitriding","x":2.254,"y":235.6}]},"mark":{"type":"text","fontSize":23,"fontStyle":"italic","color":"#555","align":"center","baseline":"middle"},
 "encoding":{"x":{"field":"x","type":"quantitative","scale":{"type":"log","domain":[0.01,10.9],"range":[514.3,1393],"nice":false},"axis":null},
 "y":{"field":"y","type":"quantitative","scale":{"domain":[300,800],"range":[587,20],"nice":false,"zero":false},"axis":null},"text":{"field":"t"}}}
]
}
